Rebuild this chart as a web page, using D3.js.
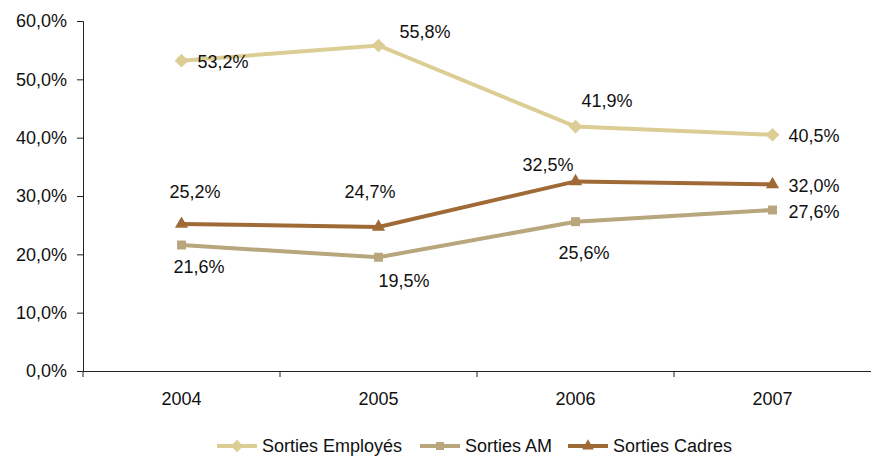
<!DOCTYPE html>
<html>
<head>
<meta charset="utf-8">
<script src="https://cdn.jsdelivr.net/npm/d3@7"></script>
<style>
body { margin: 0; background: #fff; }
text { font-family: "Liberation Sans", Arial, sans-serif; fill: #111; }
</style>
</head>
<body>
<svg></svg>
<script>
const years = ["2004", "2005", "2006", "2007"];
const employes = [53.2, 55.8, 41.9, 40.5];
const am = [21.6, 19.5, 25.6, 27.6];
const cadres = [25.2, 24.7, 32.5, 32.0];
const yTicks = [0, 10, 20, 30, 40, 50, 60];

const width = 871, height = 456;
const plotL = 83, plotR = 871, plotT = 21, plotB = 371;
const fs = "18px";

let svg = d3.select("svg").attr("width", width).attr("height", height);

const fmt = v => d3.format(".1f")(v).replace(".", ",") + "%";

let scX = d3.scaleBand().domain(years).range([plotL, plotR]);
let scY = d3.scaleLinear().domain([0, 60]).range([plotB, plotT]);

// axes
svg.append("g")
    .attr("transform", `translate(${plotL},0)`)
    .call(d3.axisLeft(scY).tickValues(yTicks).tickFormat(fmt).tickSizeOuter(0).tickSize(6).tickPadding(10))
    .call(g => g.selectAll("text").style("font-size", fs).attr("fill", "#111"))
    .call(g => g.selectAll("line,path").attr("stroke", "#222"));

let ax = svg.append("g")
    .attr("transform", `translate(0,${plotB})`)
    .call(d3.axisBottom(scX).tickSize(0).tickSizeOuter(0).tickPadding(21))
    .call(g => g.selectAll("text").style("font-size", fs).attr("fill", "#111"))
    .call(g => g.select("path").attr("stroke", "#222"));
// ticks at category boundaries
ax.selectAll(".bt")
    .data(years)
    .enter().append("line")
    .attr("x1", d => scX(d)).attr("x2", d => scX(d))
    .attr("y1", 0).attr("y2", 6)
    .attr("stroke", "#222");

const cx = d => scX(d) + scX.bandwidth() / 2;

// label offsets (dx, dy) from each point
const series = [
    {name: "Sorties Employés", values: employes, color: "#DCCD95", shape: d3.symbolDiamond2, size: 120,
     off: [[16, 1], [21, -14], [6, -26], [16, 1]]},
    {name: "Sorties AM", values: am, color: "#B8A67C", shape: d3.symbolSquare, size: 80,
     off: [[-8, 22], [0, 23], [-17, 31], [16, 2]]},
    {name: "Sorties Cadres", values: cadres, color: "#A06A37", shape: d3.symbolTriangle, size: 75,
     off: [[-12, -32], [-34, -35], [-53, -17], [16, 1]]}
];

let line = d3.line().x(d => cx(d.year)).y(d => scY(d.v));

series.forEach(s => {
    let pts = years.map((y, i) => ({year: y, v: s.values[i]}));
    svg.append("path")
        .datum(pts)
        .attr("d", line)
        .attr("fill", "none")
        .attr("stroke", s.color)
        .attr("stroke-width", 4);
    svg.selectAll(null)
        .data(pts)
        .enter().append("path")
        .attr("d", d3.symbol(s.shape, s.size))
        .attr("transform", d => `translate(${cx(d.year)},${scY(d.v)})`)
        .attr("fill", s.color);
    svg.selectAll(null)
        .data(pts)
        .enter().append("text")
        .attr("x", (d, i) => cx(d.year) + s.off[i][0])
        .attr("y", (d, i) => scY(d.v) + s.off[i][1])
        .attr("dy", "0.36em")
        .style("font-size", fs)
        .text(d => fmt(d.v));
});

// legend
const legX = [217, 420, 568];
let leg = svg.selectAll(".leg")
    .data(series)
    .enter().append("g")
    .attr("class", "leg")
    .attr("transform", (d, i) => `translate(${legX[i]},446)`);
leg.append("line")
    .attr("x1", 0).attr("x2", 40)
    .attr("stroke", d => d.color).attr("stroke-width", 4);
leg.append("path")
    .attr("d", d => d3.symbol(d.shape, d.size * 0.8)())
    .attr("transform", "translate(20,0)")
    .attr("fill", d => d.color);
leg.append("text")
    .attr("x", 45).attr("y", 0)
    .attr("dy", "0.36em")
    .style("font-size", fs)
    .text(d => d.name);
</script>
</body>
</html>
